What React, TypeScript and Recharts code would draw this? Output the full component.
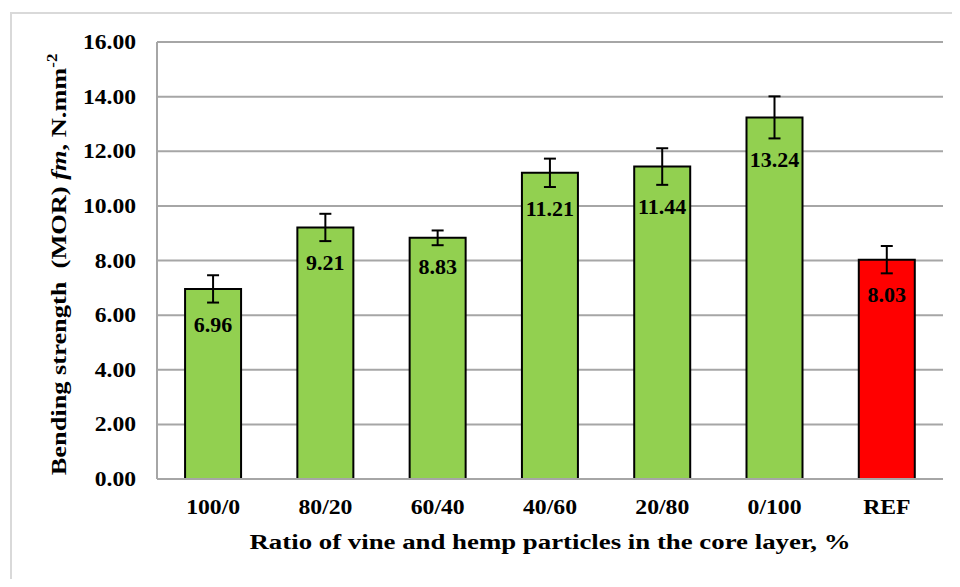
import { BarChart, Bar, XAxis, YAxis, CartesianGrid, ErrorBar, LabelList, Cell } from "recharts"

const categories = ['100/0', '80/20', '60/40', '40/60', '20/80', '0/100', 'REF']
const meanValues = [6.96, 9.21, 8.83, 11.21, 11.44, 13.24, 8.03]
const errorValues = [0.5, 0.5, 0.27, 0.52, 0.67, 0.77, 0.5]
const yTicks = [0, 2, 4, 6, 8, 10, 12, 14, 16]

const data = categories.map((name, i) => ({
  name,
  mor: meanValues[i],
  err: errorValues[i],
}))

const FONT = '"Liberation Serif", "Times New Roman", serif'

// the source picture is stretched sideways, so text is widened with scaleX
const txt = (sx: number) => ({ fontFamily: FONT, fontWeight: 'bold' as const, fill: '#000', sx })

const YTitle = ({ viewBox }: any) => {
  const cx = viewBox.x + 38
  const cy = viewBox.y + viewBox.height / 2 + 4
  return (
    <text
      transform={`translate(${cx} ${cy}) rotate(-90) scale(1.2 1)`}
      textAnchor="middle"
      fontFamily={FONT}
      fontWeight="bold"
      fontSize={22}
      fill="#000"
      style={{ whiteSpace: 'pre' }}
    >
      Bending strength  (MOR) <tspan fontStyle="italic">fm</tspan>, N.mm
      <tspan dy={-9} fontSize={14}>-2</tspan>
    </text>
  )
}

const XTitle = ({ viewBox }: any) => (
  <text
    transform={`translate(${viewBox.x + viewBox.width / 2} ${viewBox.y + 70}) scale(1.22 1)`}
    textAnchor="middle"
    fontFamily={FONT}
    fontWeight="bold"
    fontSize={22}
    fill="#000"
  >
    Ratio of vine and hemp particles in the core layer, %
  </text>
)

const YTick = ({ x, y, payload }: any) => (
  <text
    transform={`translate(${x} ${y}) scale(1.18 1)`}
    dy="0.35em"
    textAnchor="end"
    fontFamily={FONT}
    fontWeight="bold"
    fontSize={20}
    fill="#000"
  >
    {payload.value.toFixed(2)}
  </text>
)

const XTick = ({ x, y, payload }: any) => (
  <text
    transform={`translate(${x} ${y}) scale(1.13 1)`}
    dy="0.71em"
    textAnchor="middle"
    fontFamily={FONT}
    fontWeight="bold"
    fontSize={21}
    fill="#000"
  >
    {payload.value}
  </text>
)

const ValueLabel = (props: any) => {
  const { x, y, width, height, value, index } = props
  const errPx = (errorValues[index] * height) / value
  return (
    <text
      transform={`translate(${x + width / 2} ${y + errPx + 22}) scale(1.1 1)`}
      dy="0.35em"
      textAnchor="middle"
      fontFamily={FONT}
      fontWeight="bold"
      fontSize={20}
      fill="#000"
    >
      {value.toFixed(2)}
    </text>
  )
}

export default function App() {
  return (
    <div style={{ position: 'relative', width: 944, height: 571, overflow: 'hidden' }}>
      <div
        style={{
          position: 'absolute',
          left: 2,
          top: 4,
          width: 1000,
          height: 700,
          border: '2px solid #D9D9D9',
          boxSizing: 'border-box',
        }}
      />
      <div style={{ position: 'absolute', left: 0, top: 0 }}>
        <BarChart
          width={944}
          height={571}
          data={data}
          margin={{ top: 34, right: 9, bottom: 70, left: 20 }}
          barCategoryGap="25%"
        >
          <CartesianGrid vertical={false} stroke="#A6A6A6" strokeWidth={2} />
          <XAxis
            dataKey="name"
            height={30}
            axisLine={{ stroke: '#A6A6A6', strokeWidth: 2 }}
            tickLine={false}
            tickSize={6}
            tickMargin={14}
            tick={<XTick />}
            label={<XTitle />}
          />
          <YAxis
            width={129}
            domain={[0, 16]}
            ticks={yTicks}
            interval={0}
            axisLine={{ stroke: '#A6A6A6', strokeWidth: 2 }}
            tickLine={false}
            tickSize={6}
            tickMargin={15}
            tick={<YTick />}
            label={<YTitle />}
          />
          <Bar dataKey="mor" stroke="#000" strokeWidth={2} isAnimationActive={false}>
            {data.map((d) => (
              <Cell key={d.name} fill={d.name === 'REF' ? '#FF0000' : '#92D050'} />
            ))}
            <ErrorBar dataKey="err" width={6} stroke="#000" strokeWidth={2} />
            <LabelList dataKey="mor" content={<ValueLabel />} />
          </Bar>
        </BarChart>
      </div>
    </div>
  )
}
